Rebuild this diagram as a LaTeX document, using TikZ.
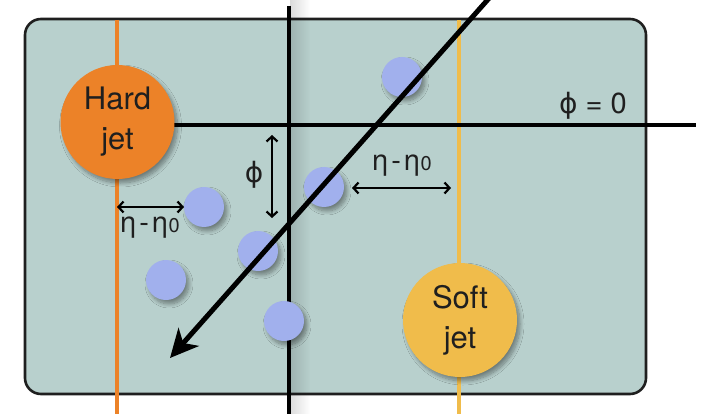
\documentclass[tikz,border=0pt]{standalone}
\usepackage{fontspec}
\setmainfont{TeX Gyre Heros}
\newfontfamily\phifont{DejaVu Sans}
\usetikzlibrary{arrows.meta,shadows.blur,fadings}
\definecolor{bgteal}{RGB}{184,208,205}
\definecolor{hardorange}{RGB}{236,130,40}
\definecolor{softyellow}{RGB}{240,188,75}
\definecolor{dotblue}{RGB}{161,176,237}
\tikzset{
  myshadow/.style={blur shadow={shadow xshift=3pt,shadow yshift=-4pt,shadow blur steps=10,shadow blur radius=4pt,shadow opacity=40}},
  dot/.style={circle,fill=dotblue,minimum size=40pt,inner sep=0pt,myshadow},
  jet/.style={circle,minimum size=114pt,inner sep=0pt,align=center,myshadow,
    font=\fontsize{31}{40}\selectfont,text=black!88},
  axis/.style={line width=3.2pt,black},
  jetline/.style={line width=3.6pt},
  meas/.style={line width=2.2pt,{Straight Barb[length=5pt,width=11pt]}-{Straight Barb[length=5pt,width=11pt]}},
  lbl/.style={font=\fontsize{29}{32}\selectfont,text=black!88,inner sep=0pt}
}
\newcommand{\mysub}[1]{{\fontsize{20}{20}\selectfont #1}}
\newcommand{\myeta}{η\kern3pt-\kern3ptη\kern0.5pt\mysub{0}}
\newcommand{\myphi}{{\phifont\fontsize{28}{30}\selectfont ϕ}}
\begin{document}
\begin{tikzpicture}[x=1pt,y=-1pt]
\useasboundingbox (0,0) rectangle (703,414);
% detector plane
\filldraw[fill=bgteal,draw=black!88,line width=2.6pt,rounded corners=16pt] (25,19) rectangle (646,394);
% shadow of the vertical axis
\fill[black,opacity=0.14,path fading=east] (290,0) rectangle (310,414);
% coordinates
\coordinate (vtop) at (289,6);
\coordinate (vbot) at (289,414);
\coordinate (otop) at (117,20);
\coordinate (obot) at (117,414);
\coordinate (ytop) at (459,20);
\coordinate (ybot) at (459,414);
\coordinate (hend) at (696,125);
% lines
\draw[axis] (vtop) -- (vbot);
\draw[jetline,hardorange] (otop) -- (obot);
\draw[jetline,softyellow] (ytop) -- (ybot);
% jets
\coordinate (hstart) at (150,125);
\draw[axis] (hstart) -- (hend);
\node[jet,fill=hardorange] (hard) at (117.5,122) {Hard\\jet};
\node[jet,fill=softyellow] (soft) at (460,320) {Soft\\jet};
% dots
\node[dot] (d1) at (402,77) {};
\node[dot] (d2) at (324,187) {};
\node[dot] (d3) at (204,207) {};
\node[dot] (d4) at (258,251) {};
\node[dot] (d5) at (166,280) {};
\node[dot] (d6) at (284,321) {};
% big arrow
\coordinate (atop) at (491,-4);
\coordinate (atip) at (170,358);
\draw[line width=5pt,-{Stealth[length=28pt,width=27pt,inset=8pt]}] (atop) -- (atip);
% measurement arrows
\coordinate (pa) at (272,135);
\coordinate (pb) at (272,218);
\draw[meas] (pa) -- (pb);
\coordinate (la) at (117,207);
\coordinate (lb) at (184,207);
\draw[meas] (la) -- (lb);
\coordinate (ra) at (352,188);
\coordinate (rb) at (451,188);
\draw[meas] (ra) -- (rb);
% labels
\node[lbl] (phil) at (254,175) {\myphi};
\node[lbl] (etal) at (150,228) {\myeta};
\node[lbl] (etar) at (402,166) {\myeta};
\node[lbl] (phi0) at (593,106) {\myphi\ = 0};
\end{tikzpicture}
\end{document}
